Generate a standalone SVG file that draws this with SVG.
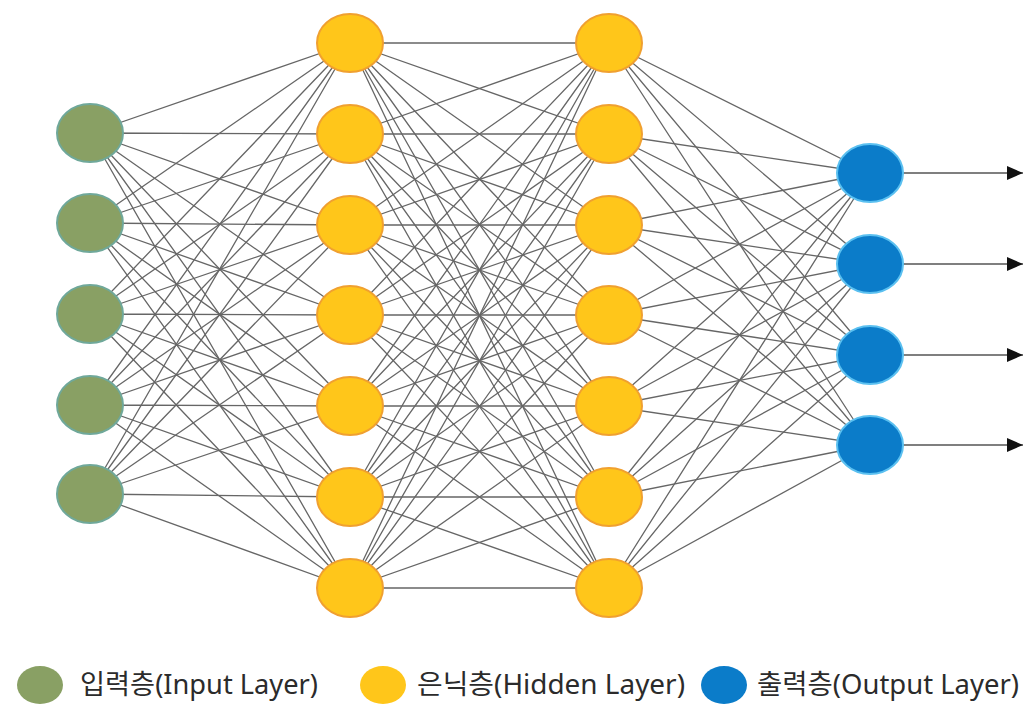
<svg xmlns="http://www.w3.org/2000/svg" width="1030" height="705" viewBox="0 0 1030 705">
<defs>
<style>
.edge{fill:none;stroke:#666;stroke-width:1.3}
.out{fill:none;stroke:#555;stroke-width:1.5}
.in{fill:#89A064;stroke:#6FA89A;stroke-width:2}
.hid{fill:#FFC61A;stroke:#F0A030;stroke-width:2}
.op{fill:#0B7CC9;stroke:#5BC0F0;stroke-width:2}
.lbl{font-family:"Noto Sans","Noto Sans CJK KR",sans-serif;font-size:27px;fill:#2b2b2b}
</style>
<marker id="ah" markerWidth="16" markerHeight="14" refX="16" refY="7" orient="auto" markerUnits="userSpaceOnUse">
<path d="M0 0L16 7L0 14Z" fill="#111"/>
</marker>
</defs>
<rect width="1030" height="705" fill="#fff"/>
<g id="connectors">
<path class="edge" d="M90 133L350 43M90 133L350 134M90 133L350 225M90 133L350 315M90 133L350 406M90 133L350 497M90 133L350 588"/>
<path class="edge" d="M90 223L350 43M90 223L350 134M90 223L350 225M90 223L350 315M90 223L350 406M90 223L350 497M90 223L350 588"/>
<path class="edge" d="M90 314L350 43M90 314L350 134M90 314L350 225M90 314L350 315M90 314L350 406M90 314L350 497M90 314L350 588"/>
<path class="edge" d="M90 405L350 43M90 405L350 134M90 405L350 225M90 405L350 315M90 405L350 406M90 405L350 497M90 405L350 588"/>
<path class="edge" d="M90 494L350 43M90 494L350 134M90 494L350 225M90 494L350 315M90 494L350 406M90 494L350 497M90 494L350 588"/>
<path class="edge" d="M350 43L609 43M350 43L609 134M350 43L609 225M350 43L609 315M350 43L609 406M350 43L609 497M350 43L609 588"/>
<path class="edge" d="M350 134L609 43M350 134L609 134M350 134L609 225M350 134L609 315M350 134L609 406M350 134L609 497M350 134L609 588"/>
<path class="edge" d="M350 225L609 43M350 225L609 134M350 225L609 225M350 225L609 315M350 225L609 406M350 225L609 497M350 225L609 588"/>
<path class="edge" d="M350 315L609 43M350 315L609 134M350 315L609 225M350 315L609 315M350 315L609 406M350 315L609 497M350 315L609 588"/>
<path class="edge" d="M350 406L609 43M350 406L609 134M350 406L609 225M350 406L609 315M350 406L609 406M350 406L609 497M350 406L609 588"/>
<path class="edge" d="M350 497L609 43M350 497L609 134M350 497L609 225M350 497L609 315M350 497L609 406M350 497L609 497M350 497L609 588"/>
<path class="edge" d="M350 588L609 43M350 588L609 134M350 588L609 225M350 588L609 315M350 588L609 406M350 588L609 497M350 588L609 588"/>
<path class="edge" d="M609 43L870 173M609 43L870 264M609 43L870 355M609 43L870 445"/>
<path class="edge" d="M609 134L870 173M609 134L870 264M609 134L870 355M609 134L870 445"/>
<path class="edge" d="M609 225L870 173M609 225L870 264M609 225L870 355M609 225L870 445"/>
<path class="edge" d="M609 315L870 173M609 315L870 264M609 315L870 355M609 315L870 445"/>
<path class="edge" d="M609 406L870 173M609 406L870 264M609 406L870 355M609 406L870 445"/>
<path class="edge" d="M609 497L870 173M609 497L870 264M609 497L870 355M609 497L870 445"/>
<path class="edge" d="M609 588L870 173M609 588L870 264M609 588L870 355M609 588L870 445"/>
<path class="out" d="M903 173L1023 173" marker-end="url(#ah)"/>
<path class="out" d="M903 264L1023 264" marker-end="url(#ah)"/>
<path class="out" d="M903 355L1023 355" marker-end="url(#ah)"/>
<path class="out" d="M903 445L1023 445" marker-end="url(#ah)"/>
</g>
<g id="input-1"><ellipse class="in" cx="90" cy="133" rx="33" ry="29"/></g>
<g id="input-2"><ellipse class="in" cx="90" cy="223" rx="33" ry="29"/></g>
<g id="input-3"><ellipse class="in" cx="90" cy="314" rx="33" ry="29"/></g>
<g id="input-4"><ellipse class="in" cx="90" cy="405" rx="33" ry="29"/></g>
<g id="input-5"><ellipse class="in" cx="90" cy="494" rx="33" ry="29"/></g>
<g id="hidden1-1"><ellipse class="hid" cx="350" cy="43" rx="33" ry="29"/></g>
<g id="hidden1-2"><ellipse class="hid" cx="350" cy="134" rx="33" ry="29"/></g>
<g id="hidden1-3"><ellipse class="hid" cx="350" cy="225" rx="33" ry="29"/></g>
<g id="hidden1-4"><ellipse class="hid" cx="350" cy="315" rx="33" ry="29"/></g>
<g id="hidden1-5"><ellipse class="hid" cx="350" cy="406" rx="33" ry="29"/></g>
<g id="hidden1-6"><ellipse class="hid" cx="350" cy="497" rx="33" ry="29"/></g>
<g id="hidden1-7"><ellipse class="hid" cx="350" cy="588" rx="33" ry="29"/></g>
<g id="hidden2-1"><ellipse class="hid" cx="609" cy="43" rx="33" ry="29"/></g>
<g id="hidden2-2"><ellipse class="hid" cx="609" cy="134" rx="33" ry="29"/></g>
<g id="hidden2-3"><ellipse class="hid" cx="609" cy="225" rx="33" ry="29"/></g>
<g id="hidden2-4"><ellipse class="hid" cx="609" cy="315" rx="33" ry="29"/></g>
<g id="hidden2-5"><ellipse class="hid" cx="609" cy="406" rx="33" ry="29"/></g>
<g id="hidden2-6"><ellipse class="hid" cx="609" cy="497" rx="33" ry="29"/></g>
<g id="hidden2-7"><ellipse class="hid" cx="609" cy="588" rx="33" ry="29"/></g>
<g id="output-1"><ellipse class="op" cx="870" cy="173" rx="33" ry="29"/></g>
<g id="output-2"><ellipse class="op" cx="870" cy="264" rx="33" ry="29"/></g>
<g id="output-3"><ellipse class="op" cx="870" cy="355" rx="33" ry="29"/></g>
<g id="output-4"><ellipse class="op" cx="870" cy="445" rx="33" ry="29"/></g>
<g id="legend">
<ellipse cx="40" cy="685" rx="23" ry="19" fill="#89A064"/>
<text class="lbl" x="80" y="694" textLength="238" lengthAdjust="spacingAndGlyphs">입력층(Input Layer)</text>
<ellipse cx="383" cy="685" rx="23" ry="19" fill="#FFC61A"/>
<text class="lbl" x="417" y="694" textLength="268" lengthAdjust="spacingAndGlyphs">은닉층(Hidden Layer)</text>
<ellipse cx="724" cy="685" rx="23" ry="19" fill="#0B7CC9"/>
<text class="lbl" x="757" y="694" textLength="262" lengthAdjust="spacingAndGlyphs">출력층(Output Layer)</text>
</g>
</svg>
